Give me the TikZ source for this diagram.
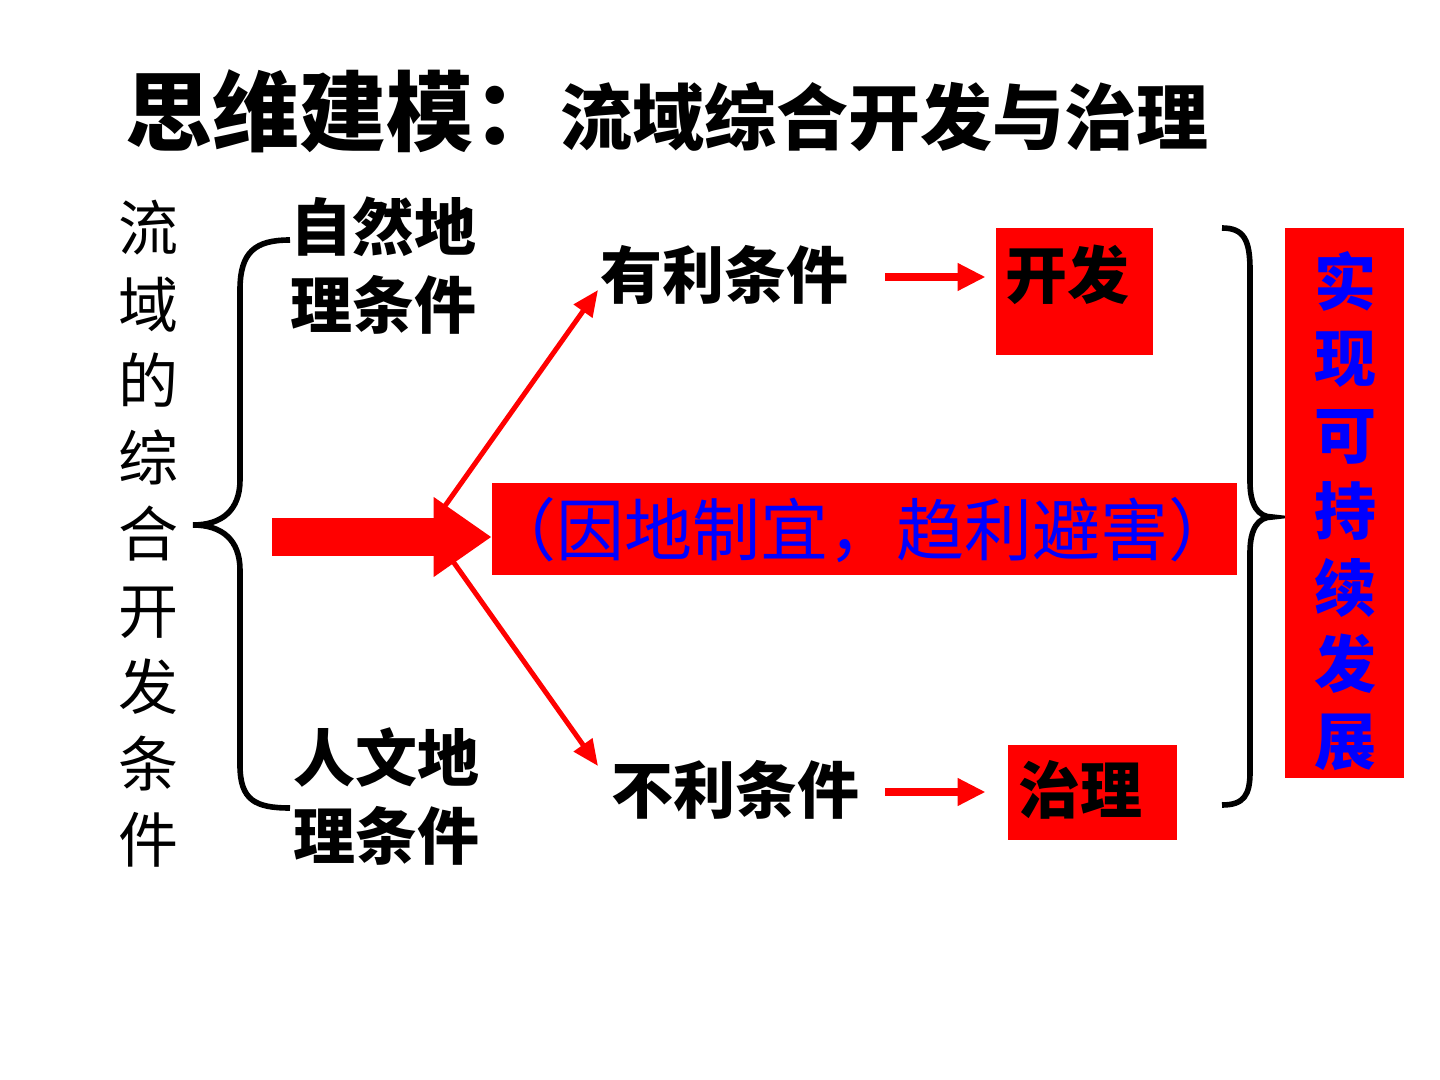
\documentclass[tikz,border=0pt]{standalone}
\usepackage{fontspec}
\setmainfont{Noto Sans CJK SC}
\usetikzlibrary{arrows.meta}
\definecolor{pred}{RGB}{255,0,0}
\definecolor{pblue}{RGB}{0,0,255}
\tikzset{
  txt/.style={inner sep=0pt, align=center, font=\fontsize{31}{39}\selectfont\bfseries},
  redbox/.style={fill=pred, draw=none, inner sep=0pt},
  thinarrow/.style={draw=pred, line width=2.5pt, -{Triangle[length=13pt,width=11pt]}},
  harrow/.style={draw=pred, line width=4pt, -{Triangle[length=14pt,width=13pt]}},
  bracestyle/.style={draw=black, line width=2.8pt}
}
\begin{document}
\begin{tikzpicture}[x=0.5pt,y=-0.5pt]
\useasboundingbox (0,0) rectangle (1440,1080);
% title
\node (title) [anchor=base west, inner sep=0pt] at (125,145)
  {\fontsize{43.5}{50}\selectfont\bfseries 思维建模：\fontsize{36}{42}\selectfont 流域综合开发与治理};
% left vertical text
\node (left) [inner sep=0pt, align=center, font=\fontsize{30}{38.25}\selectfont] at (148,534)
  {流\\域\\的\\综\\合\\开\\发\\条\\件};
% left brace
\draw[bracestyle] (290,240) .. controls (255,240) and (240,252) .. (240,290) -- (240,480)
  .. controls (240,510) and (222,525) .. (193,525)
  .. controls (222,525) and (240,540) .. (240,570) -- (240,765)
  .. controls (240,800) and (255,808) .. (290,808);
\node (nat) [txt] at (383,266) {自然地\\理条件};
\node (hum) [txt] at (386,797) {人文地\\理条件};
% middle box
\node (mid) [redbox, minimum width=745*0.5pt, minimum height=92*0.5pt] at (864.5,529) {};
\node (midtxt) [inner sep=0pt, text=pblue, font=\fontsize{34}{40}\selectfont] at (862,530) {（因地制宜，趋利避害）};
% fat arrow
\coordinate (fatstart) at (272,537);
\draw[draw=pred, line width=19pt, -{Triangle[length=29pt,width=38pt]}] (fatstart) -- (mid.west |- fatstart);
% fork arrows
\coordinate (fork1) at (440,513);
\coordinate (fork2) at (452,560);
\node (fav) [txt] at (724,275) {有利条件};
\node (unf) [txt] at (735,790) {不利条件};
\coordinate (favtip) at (598,290);
\coordinate (unftip) at (598,766);
\draw[thinarrow] (fork1) -- (favtip);
\draw[thinarrow] (fork2) -- (unftip);
% develop box
\node (devbox) [redbox, minimum width=157*0.5pt, minimum height=127*0.5pt] at (1074.5,291.5) {};
\node (dev) [txt] at (1067,275) {开发};
\node (govbox) [redbox, minimum width=169*0.5pt, minimum height=95*0.5pt] at (1092.5,792.5) {};
\node (gov) [txt] at (1080,790) {治理};
\coordinate (a1s) at (885,277);
\coordinate (a2s) at (885,792);
\draw[harrow] (a1s) -- ([xshift=-5pt]devbox.west |- a1s);
\draw[harrow] (a2s) -- ([xshift=-11pt]govbox.west |- a2s);
% right brace
\draw[bracestyle] (1222,228) .. controls (1244,228) and (1250,240) .. (1250,270) -- (1250,482)
  .. controls (1250,505) and (1258,517) .. (1272,517)
  .. controls (1258,517) and (1250,529) .. (1250,552) -- (1250,772)
  .. controls (1250,795) and (1244,805) .. (1222,805);
% right box
\node (sus) [redbox, minimum width=119*0.5pt, minimum height=550*0.5pt] at (1344.5,503) {};
\node (sustxt) [inner sep=0pt, align=center, text=pblue, font=\fontsize{31}{38.25}\selectfont\bfseries] at (1345,511)
  {实\\现\\可\\持\\续\\发\\展};
\end{tikzpicture}
\end{document}
